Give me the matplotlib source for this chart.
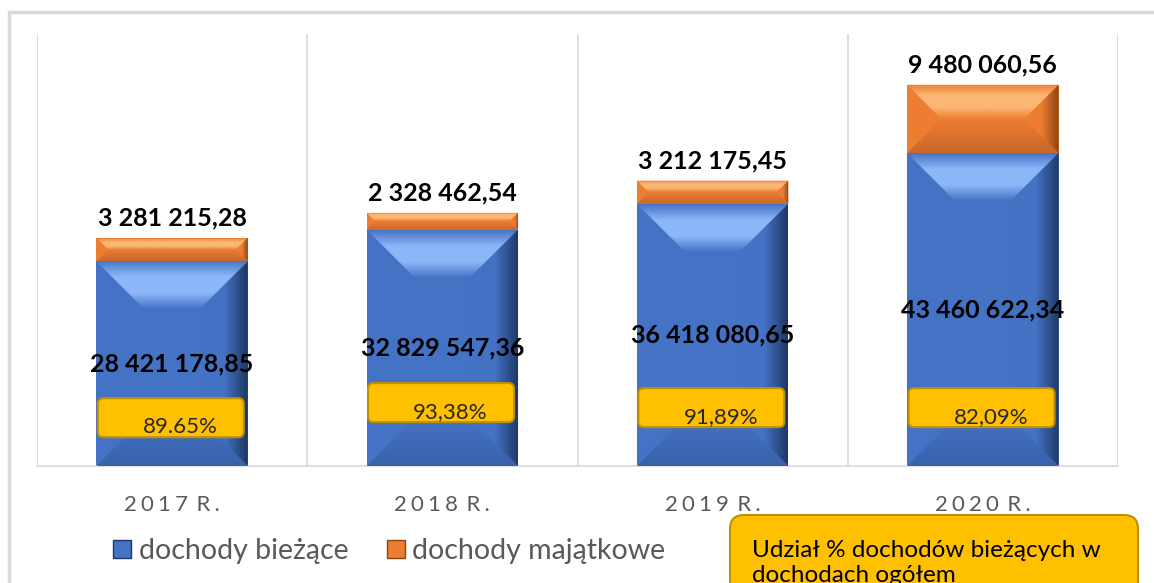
import numpy as np
import matplotlib.pyplot as plt
from matplotlib.patches import Polygon, FancyBboxPatch, Rectangle
from matplotlib.colors import LinearSegmentedColormap
from matplotlib.lines import Line2D

plt.rcParams['font.family'] = ['Lato', 'DejaVu Sans']

# data
years = ["2017", "2018", "2019", "2020"]
biezace = [28421178.85, 32829547.36, 36418080.65, 43460622.34]
majatkowe = [3281215.28, 2328462.54, 3212175.45, 9480060.56]
shares = ["89.65%", "93,38%", "91,89%", "82,09%"]
share_box_y = [4.0e6, 6.1e6, 5.4e6, 5.4e6]   # where the hand-placed share boxes sit

BLUE = ('#4472C4', '#8DB6F8', '#1E3763', '#3A62AC')
ORANGE = ('#ED7D31', '#FBB775', '#8E4314', '#C9672A')

W, H = 1154, 583
fig = plt.figure(figsize=(W / 100, H / 100), dpi=100)
ax = fig.add_axes([37 / W, 117 / H, 1081 / W, 432 / H])
XLIM = (-0.5, 3.5)
YLIM = (0, 60e6)
px_x = 1081 / (XLIM[1] - XLIM[0])
px_y = 432 / (YLIM[1] - YLIM[0])


def fmt_pl(v):
    s = f"{v:,.2f}"
    return s.replace(",", " ").replace(".", ",")


def grad(poly, extent, colors, horizontal, z):
    cmap = LinearSegmentedColormap.from_list('g', colors)
    g = np.linspace(0, 1, 256)
    arr = g[None, :] if horizontal else g[:, None]
    im = ax.imshow(arr, extent=extent, cmap=cmap, aspect='auto', origin='lower',
                   zorder=z, interpolation='bilinear')
    im.set_clip_path(poly)


def bevel(rect, pal, z=3):
    base, light, dark, shade = pal
    x0, y0 = rect.get_x(), rect.get_y()
    x1, y1 = x0 + rect.get_width(), y0 + rect.get_height()
    d = min(48, rect.get_height() * px_y / 2, rect.get_width() * px_x / 2)
    dx, dy = d / px_x, d / px_y
    top = Polygon([(x0, y1), (x1, y1), (x1 - dx, y1 - dy), (x0 + dx, y1 - dy)],
                  closed=True, fc='none', ec='none', zorder=z)
    bot = Polygon([(x0, y0), (x1, y0), (x1 - dx, y0 + dy), (x0 + dx, y0 + dy)],
                  closed=True, fc='none', ec='none', zorder=z)
    rig = Polygon([(x1, y0), (x1 - dx, y0 + dy), (x1 - dx, y1 - dy), (x1, y1)],
                  closed=True, fc='none', ec='none', zorder=z)
    for p in (top, bot, rig):
        ax.add_patch(p)
    grad(top, [x0, x1, y1 - dy, y1], [base, light, light, base], False, z)
    grad(bot, [x0, x1, y0, y0 + dy], [shade, base], False, z)
    grad(rig, [x1 - dx, x1, y0, y1], [base, base, dark], True, z)


x = np.arange(len(years))
bw = 0.56
b1 = ax.bar(x, biezace, bw, color=BLUE[0], zorder=2)
b2 = ax.bar(x, majatkowe, bw, bottom=biezace, color=ORANGE[0], zorder=2)
for r in b1:
    bevel(r, BLUE)
for r in b2:
    bevel(r, ORANGE)
ax.set_xlim(*XLIM)
ax.set_ylim(*YLIM)

# value labels
for i in range(len(years)):
    ax.text(x[i], biezace[i] / 2, fmt_pl(biezace[i]), ha='center', va='center',
            fontsize=18, fontweight='bold', color='black', zorder=6)
    ax.text(x[i], biezace[i] + majatkowe[i] + 20 / px_y, fmt_pl(majatkowe[i]),
            ha='center', va='center', fontsize=18, fontweight='bold',
            color='black', zorder=6)
    bx = FancyBboxPatch((x[i] - bw / 2 + 0.005, share_box_y[i]), bw - 0.02,
                        39 / px_y, boxstyle='round,pad=0,rounding_size=0.02',
                        mutation_aspect=px_x / px_y,
                        fc='#FFC000', ec='#BF9000', lw=1.5, zorder=7)
    ax.add_patch(bx)
    t = ax.text(x[i] + 0.03, share_box_y[i] + 10 / px_y, shares[i], ha='center',
                va='center', fontsize=16, color='#262626', zorder=8)
    t.set_clip_path(bx)

# axes styling
ax.set_xticks(x)
ax.set_xticklabels(["\u2009\u200a".join(list(y)) + "\u2009 R\u2009\u200a."
                    for y in years], fontsize=16, color='#595959')
ax.tick_params(axis='x', length=0, pad=21)
ax.set_yticks([])
ax.set_xticks(np.arange(-0.5, 4), minor=True)
ax.tick_params(axis='x', which='minor', length=0)
ax.grid(True, which='minor', axis='x', color='#D9D9D9', lw=1.2)
for s in ('top', 'left', 'right'):
    ax.spines[s].set_visible(False)
ax.spines['bottom'].set_color('#D9D9D9')
ax.spines['bottom'].set_linewidth(1.2)

# outer frame
fig.patches.append(Rectangle((9 / W, -0.1), 1.2, 1.1 - 12 / H,
                             transform=fig.transFigure, fill=False,
                             ec='#D9D9D9', lw=2.5))

# legend
handles = [Line2D([], [], marker='s', ls='none', ms=12.5, mfc=BLUE[0], mec=BLUE[2]),
           Line2D([], [], marker='s', ls='none', ms=12.5, mfc=ORANGE[0], mec=ORANGE[2])]
fig.legend(handles, ["dochody bieżące", "dochody majątkowe"], loc='center left',
           bbox_to_anchor=(86 / W, 1 - 551 / H), ncol=2, frameon=False,
           fontsize=20.5, labelcolor='#595959', handletextpad=0.2,
           columnspacing=1.3, handlelength=0.75)

# note box
note = FancyBboxPatch((730 / W, 1 - 595 / H), 408 / W, 80 / H,
                      boxstyle='round,pad=0,rounding_size=0.012',
                      transform=fig.transFigure, fc='#FFC000', ec='#BF9000',
                      lw=1.5, mutation_aspect=W / H)
fig.patches.append(note)
fig.text(752 / W, 1 - 563 / H, "Udział % dochodów bieżących w\ndochodach ogółem",
         fontsize=17.5, color='black', va='center', ha='left', linespacing=1.25)

fig.savefig('out.png', dpi=100)
